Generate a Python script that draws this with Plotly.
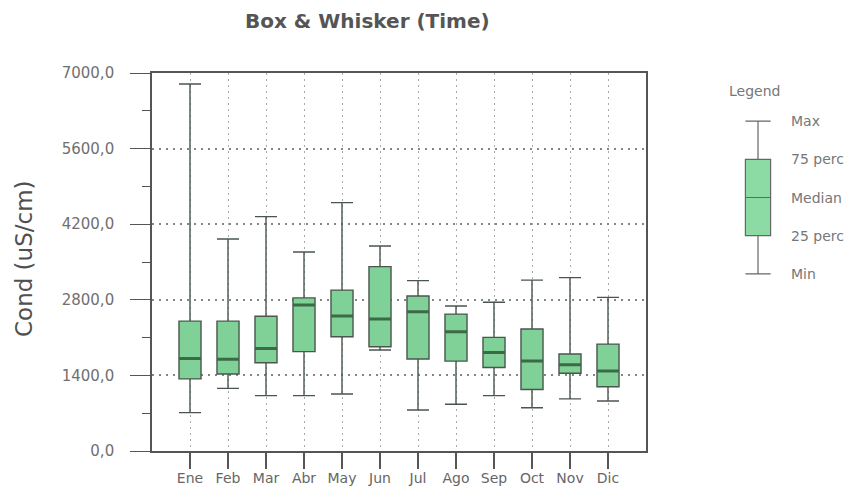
import plotly.graph_objects as go

months = ["Ene", "Feb", "Mar", "Abr", "May", "Jun", "Jul", "Ago", "Sep", "Oct", "Nov", "Dic"]
val_min = [710, 1160, 1025, 1025, 1055, 1870, 760, 865, 1025, 800, 965, 925]
val_q1 = [1335, 1425, 1635, 1840, 2115, 1930, 1705, 1665, 1545, 1140, 1440, 1190]
val_median = [1715, 1700, 1900, 2705, 2500, 2445, 2580, 2210, 1825, 1665, 1595, 1480]
val_q3 = [2405, 2405, 2495, 2835, 2980, 3415, 2870, 2535, 2105, 2260, 1795, 1980]
val_max = [6795, 3925, 4340, 3685, 4600, 3795, 3155, 2685, 2755, 3165, 3210, 2845]

y_ticks = [0, 1400, 2800, 4200, 5600, 7000]

legend_labels = ["Min", "25 perc", "Median", "75 perc", "Max"]
legend_levels = [0, 1, 2, 3, 4]

W, H = 859, 491
OFF = 8  # page body offset


def px_x(p):
    return (p - OFF) / W


def px_y(p):
    return (H - (p - OFF)) / H


fig = go.Figure()

fig.add_trace(go.Box(
    x=months,
    q1=val_q1, median=val_median, q3=val_q3,
    lowerfence=val_min, upperfence=val_max,
    fillcolor="#7fd197",
    line=dict(color="#4a564d", width=1.4),
    width=0.58, whiskerwidth=1,
    boxpoints=False, hoverinfo="skip",
    xaxis="x", yaxis="y",
))

# thicker median bars drawn as degenerate boxes
fig.add_trace(go.Box(
    x=months,
    q1=val_median, median=val_median, q3=val_median,
    lowerfence=val_median, upperfence=val_median,
    fillcolor="rgba(0,0,0,0)",
    line=dict(color="#3c6a47", width=3),
    width=0.58, whiskerwidth=1,
    boxpoints=False, hoverinfo="skip",
    xaxis="x", yaxis="y",
))

# legend schematic
fig.add_trace(go.Box(
    x=[0],
    q1=[legend_levels[1]], median=[legend_levels[2]], q3=[legend_levels[3]],
    lowerfence=[legend_levels[0]], upperfence=[legend_levels[4]],
    fillcolor="#8ddba4",
    line=dict(color="#666666", width=1.2),
    width=0.7, whiskerwidth=1,
    boxpoints=False, hoverinfo="skip",
    xaxis="x2", yaxis="y2",
))

frame_col = "#555555"
fig.update_layout(
    width=W, height=H,
    margin=dict(l=0, r=0, t=0, b=0, autoexpand=False),
    paper_bgcolor="white", plot_bgcolor="white",
    showlegend=False,
    boxmode="overlay",
    separators=",.",
    font=dict(family="DejaVu Sans, sans-serif", color="#666666"),
    xaxis=dict(
        domain=[px_x(152), px_x(646)],
        type="category", categoryorder="array", categoryarray=months,
        range=[-1, 12],
        showgrid=True, gridcolor="#a8a8a8", griddash="2px,4px", gridwidth=1.2,
        ticks="outside", ticklen=16, tickwidth=1.5, tickcolor=frame_col,
        ticklabelstandoff=-3,
        tickfont=dict(size=14, color="#666666"),
        showline=True, linecolor=frame_col, linewidth=1.6, mirror=True,
        zeroline=False, fixedrange=True, automargin=False,
    ),
    yaxis=dict(
        domain=[px_y(451), px_y(73)],
        range=[0, 7000],
        tickvals=y_ticks, tickformat=".1f",
        showgrid=True, gridcolor="#858585", griddash="2px,5px", gridwidth=1.5,
        ticks="outside", ticklen=20, tickwidth=1.2, tickcolor=frame_col,
        ticklabelstandoff=13,
        minor=dict(dtick=700, ticks="outside", ticklen=8, tickcolor=frame_col, showgrid=False),
        tickfont=dict(size=15, color="#707070"),
        showline=True, linecolor=frame_col, linewidth=1.6, mirror=True,
        zeroline=False, fixedrange=True, automargin=False,
    ),
    xaxis2=dict(
        domain=[px_x(740), px_x(776)], anchor="y2",
        range=[-0.5, 0.5], visible=False, fixedrange=True, automargin=False,
    ),
    yaxis2=dict(
        domain=[px_y(293), px_y(102)], anchor="x2",
        range=[-0.5, 4.5], visible=False, fixedrange=True, automargin=False,
    ),
)

annotations = [
    dict(text="<b>Box & Whisker (Time)</b>", x=px_x(367), y=px_y(21), xref="paper", yref="paper",
         xanchor="center", yanchor="middle",
         showarrow=False, font=dict(size=20, family="DejaVu Sans, sans-serif", color="#555555")),
    dict(text="Cond (uS/cm)", x=px_x(24), y=px_y(259), xref="paper", yref="paper",
         xanchor="center", yanchor="middle",
         showarrow=False, textangle=-90, font=dict(size=23, color="#505050")),
    dict(text="Legend", x=px_x(727), y=px_y(91), xref="paper", yref="paper",
         xanchor="left", yanchor="middle",
         showarrow=False, font=dict(size=14, color="#777777")),
]
for lab, lev in zip(legend_labels, legend_levels):
    annotations.append(dict(text=lab, x=px_x(789), y=lev, xref="paper", yref="y2",
                            xanchor="left", yanchor="middle",
                            showarrow=False, font=dict(size=14, color="#777777")))
fig.update_layout(annotations=annotations)

fig.write_html("out.html")
